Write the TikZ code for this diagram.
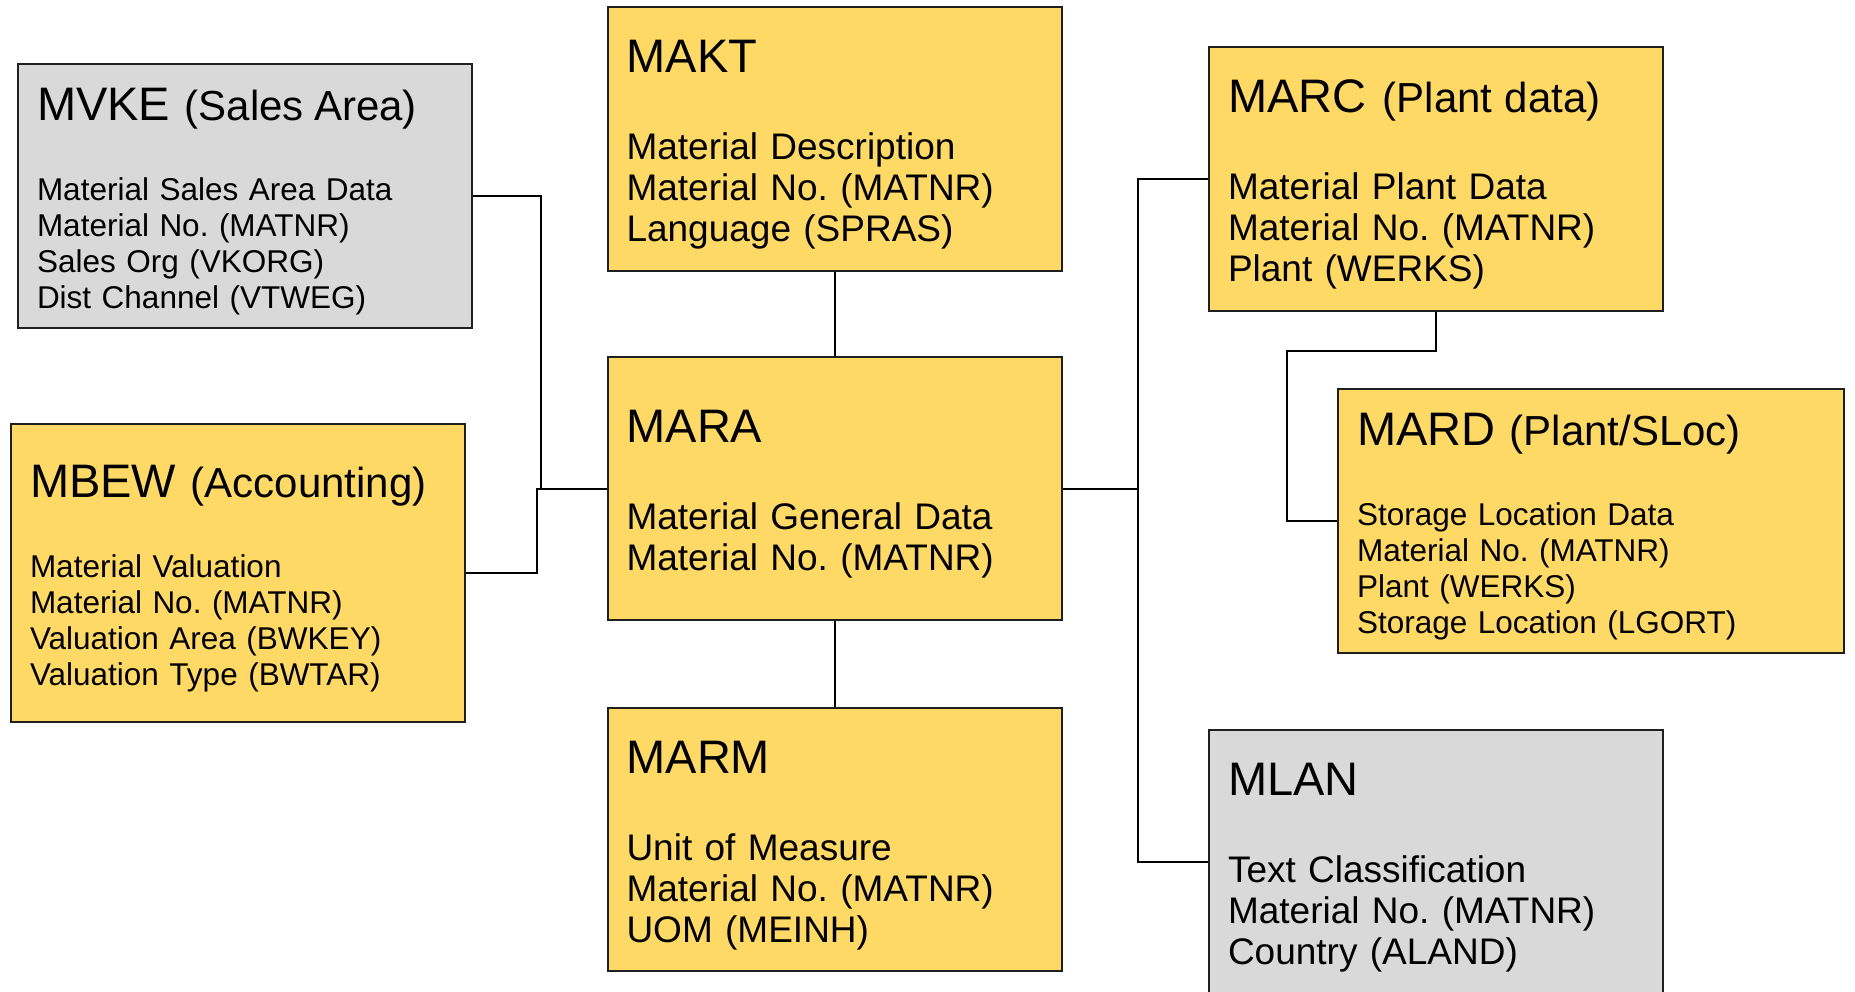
\documentclass[tikz,border=0pt]{standalone}
\usepackage{fontspec}
\setmainfont{Liberation Sans}
\frenchspacing
\definecolor{boxyellow}{HTML}{FFD966}
\definecolor{boxgray}{HTML}{D9D9D9}
\newcommand\boxtitle{\fontsize{47}{52}\selectfont\rule{0pt}{44pt}}
\newcommand\boxsubtitle{\hspace{4pt}\fontsize{42}{48}\selectfont}
\newcommand\bodylarge{\fontsize{37}{41}\selectfont}
\newcommand\bodysmall{\fontsize{31.5}{36}\selectfont}
\begin{document}
\begin{tikzpicture}[x=1pt,y=-1pt,
  tbl/.style={draw=black!88, line width=2pt, rectangle, align=left,
    inner xsep=19pt, inner ysep=0pt, minimum height=264pt, text width=416pt, anchor=center},
  yel/.style={tbl, fill=boxyellow},
  gry/.style={tbl, fill=boxgray},
  bigtext/.style={font=\bodylarge},
  smalltext/.style={font=\bodysmall},
  conn/.style={line width=2pt, draw=black}]
\fill[white] (0,0) rectangle (1855,992);
\useasboundingbox (0,0) rectangle (1855,992);

\node[gry, smalltext] (mvke) at (245,196)
  {{\boxtitle MVKE \boxsubtitle(Sales Area)}\\[44pt]
   Material Sales Area Data\\Material No. (MATNR)\\Sales Org (VKORG)\\Dist Channel (VTWEG)};
\node[yel, smalltext, minimum height=298pt] (mbew) at (238,573)
  {{\boxtitle MBEW \boxsubtitle(Accounting)}\\[44pt]
   Material Valuation\\Material No. (MATNR)\\Valuation Area (BWKEY)\\Valuation Type (BWTAR)};
\node[yel, bigtext] (makt) at (834.5,139)
  {{\boxtitle MAKT}\\[46pt]
   Material Description\\Material No. (MATNR)\\Language (SPRAS)};
\node[yel, bigtext, minimum height=263pt] (mara) at (834.5,488.5)
  {{\boxtitle MARA}\\[46pt]
   Material General Data\\Material No. (MATNR)};
\node[yel, bigtext, minimum height=263pt] (marm) at (834.5,839.5)
  {{\boxtitle MARM}\\[46pt]
   Unit of Measure\\Material No. (MATNR)\\UOM (MEINH)};
\node[yel, bigtext] (marc) at (1436,179)
  {{\boxtitle MARC \boxsubtitle(Plant data)}\\[46pt]
   Material Plant Data\\Material No. (MATNR)\\Plant (WERKS)};
\node[yel, smalltext, text width=468pt] (mard) at (1591,521)
  {{\boxtitle MARD \boxsubtitle(Plant/SLoc)}\\[44pt]
   Storage Location Data\\Material No. (MATNR)\\Plant (WERKS)\\Storage Location (LGORT)};
\node[gry, bigtext] (mlan) at (1436,862)
  {{\boxtitle MLAN}\\[46pt]
   Text Classification\\Material No. (MATNR)\\Country (ALAND)};

\draw[conn] (mvke.east) -- ++(68,0) |- (mara.west);
\draw[conn] (mbew.east) -- ++(71,0) |- (mara.west);
\draw[conn] (makt.south) -- (mara.north);
\draw[conn] (mara.south) -- (marm.north);
\draw[conn] (mara.east) -- ++(75,0) |- (marc.west);
\draw[conn] (mara.east) -- ++(75,0) |- (mlan.west);
\draw[conn] (marc.south) -- ++(0,39) -| ([xshift=-50pt]mard.west) -- (mard.west);
\end{tikzpicture}
\end{document}
